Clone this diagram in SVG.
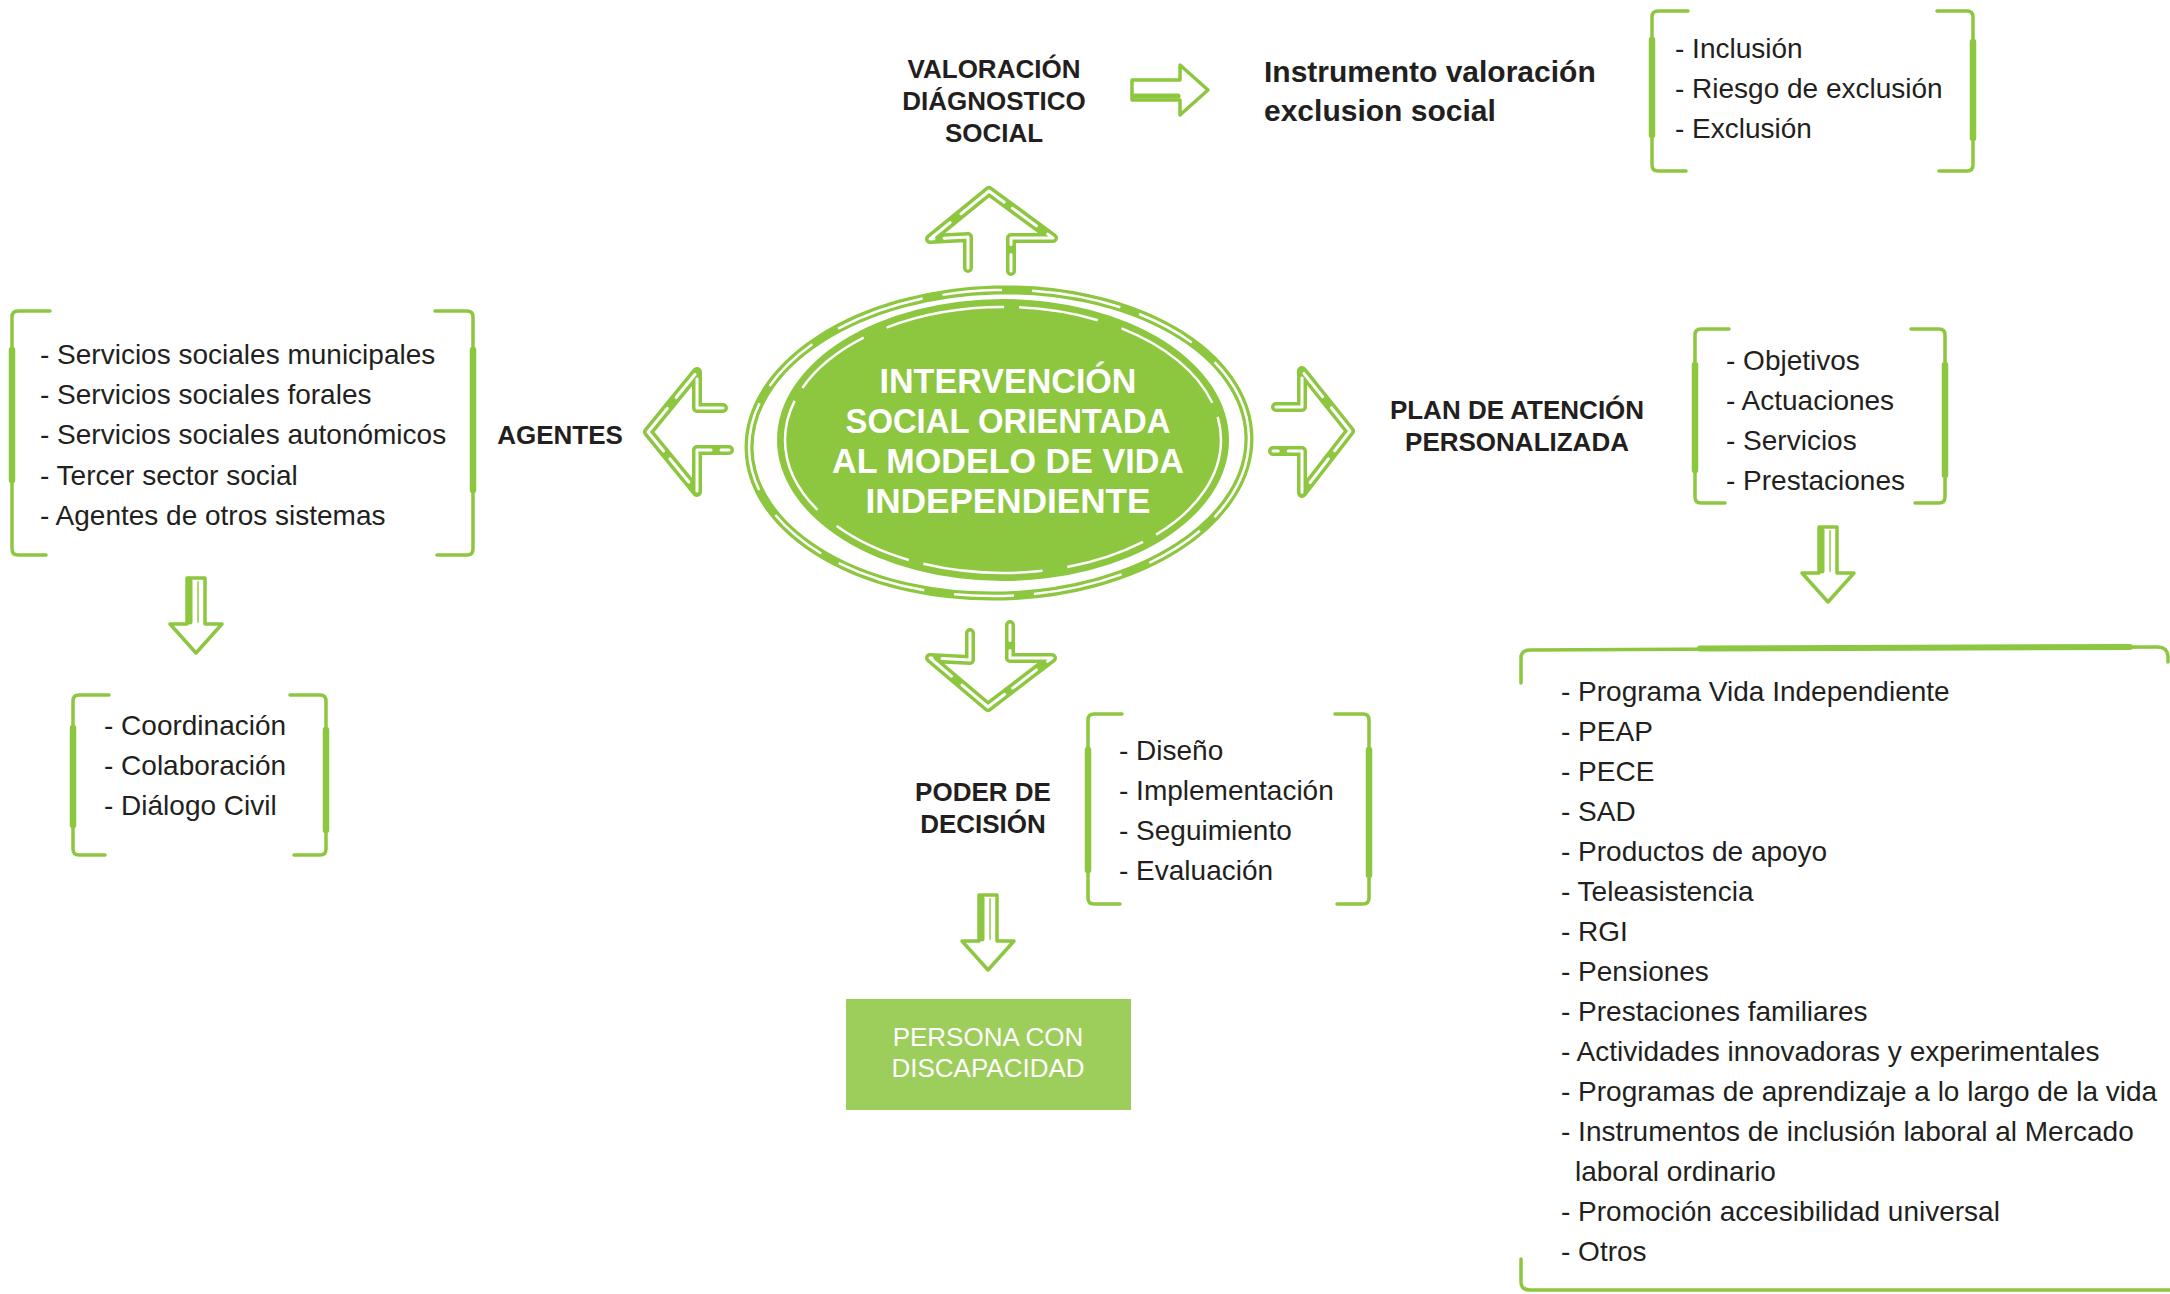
<svg xmlns="http://www.w3.org/2000/svg" xmlns:xlink="http://www.w3.org/1999/xlink" width="2170" height="1294" viewBox="0 0 2170 1294">
<style>
.txt{font-family:"Liberation Sans",Arial,sans-serif;font-size:28px;fill:#231f20}
.lbl{font-family:"Liberation Sans",Arial,sans-serif;font-size:26px;font-weight:bold;fill:#231f20;text-anchor:middle}
.ins{font-family:"Liberation Sans",Arial,sans-serif;font-size:30px;font-weight:bold;fill:#231f20}
.title{font-family:"Liberation Sans",Arial,sans-serif;font-size:35px;font-weight:bold;fill:#fff;text-anchor:middle}
.pers{font-family:"Liberation Sans",Arial,sans-serif;font-size:26px;fill:#fff;text-anchor:middle}
.br{fill:none;stroke:#8dc63f;stroke-width:3.5;stroke-linecap:round;stroke-linejoin:round}
.brt{fill:none;stroke:#8dc63f;stroke-width:6.5;stroke-linecap:round}
.ar{fill:none;stroke:#8dc63f;stroke-width:10;stroke-linejoin:round;stroke-linecap:round}
.arw{fill:none;stroke:#fff;stroke-width:3;stroke-linejoin:round;stroke-linecap:round;stroke-dasharray:55 10 30 14}
.sa{fill:none;stroke:#8dc63f;stroke-width:3.5;stroke-linejoin:round;stroke-linecap:round}
.sat{fill:none;stroke:#8dc63f;stroke-width:5;stroke-linecap:round}
</style>
<defs>
<g id="sdown">
<path class="sa" d="M-9,0 L-9,46 L-26,46 L0,75 L26,46 L9,46 L9,0 Z"/>
<path class="sat" d="M-6,3 L-6,44"/>
<path class="sa" style="stroke-width:2;opacity:.7" d="M2,4 L2,44"/>
</g>
</defs>
<rect width="2170" height="1294" fill="#fff"/>

<g id="connectors">
<path class="ar" d="M968,268 L968,237 L930,239 L989,191 L1053,238 L1011,238 L1011,271"/>
<path class="arw" d="M968,268 L968,237 L930,239 L989,191 L1053,238 L1011,238 L1011,271"/>
<path class="ar" d="M723,408 L697,408 L697,372 L648,432 L697,492 L697,450 L729,450"/>
<path class="arw" d="M723,408 L697,408 L697,372 L648,432 L697,492 L697,450 L729,450"/>
<path class="ar" d="M1276,407 L1302,407 L1302,371 L1350,431 L1302,493 L1302,451 L1273,451"/>
<path class="arw" d="M1276,407 L1302,407 L1302,371 L1350,431 L1302,493 L1302,451 L1273,451"/>
<path class="ar" d="M970,633 L970,660 L930,658 L988,707 L1052,658 L1010,658 L1010,625"/>
<path class="arw" d="M970,633 L970,660 L930,658 L988,707 L1052,658 L1010,658 L1010,625"/>
<path class="sa" d="M1132,80 L1180,80 L1180,65 L1208,90 L1180,115 L1180,100 L1132,100 Z"/>
<path class="sat" d="M1135,96 L1178,96"/>
<use xlink:href="#sdown" transform="translate(196,578)"/>
<use xlink:href="#sdown" transform="translate(1828,527)"/>
<use xlink:href="#sdown" transform="translate(988,895)"/>
</g>

<g id="n-center">
<ellipse cx="999" cy="443" rx="250" ry="153" fill="none" stroke="#8dc63f" stroke-width="9" transform="rotate(-1.5 999 443)"/>
<ellipse cx="999" cy="443" rx="250" ry="153" fill="none" stroke="#fff" stroke-width="2.5" stroke-dasharray="90 20 60 30" transform="rotate(-1.5 999 443)"/>
<ellipse cx="1003" cy="440" rx="226" ry="141" fill="#8dc63f"/>
<ellipse cx="1003" cy="440" rx="218" ry="133" fill="none" stroke="#fff" stroke-width="2.5" stroke-dasharray="120 15 80 25"/>
<text class="title" x="1008" y="393" textLength="257" lengthAdjust="spacingAndGlyphs">INTERVENCIÓN</text>
<text class="title" x="1008" y="433" textLength="325" lengthAdjust="spacingAndGlyphs">SOCIAL ORIENTADA</text>
<text class="title" x="1008" y="473" textLength="352" lengthAdjust="spacingAndGlyphs">AL MODELO DE VIDA</text>
<text class="title" x="1008" y="513" textLength="285" lengthAdjust="spacingAndGlyphs">INDEPENDIENTE</text>
</g>

<g id="n-valoracion">
<text class="lbl" x="994" y="78">VALORACIÓN</text>
<text class="lbl" x="994" y="110">DIÁGNOSTICO</text>
<text class="lbl" x="994" y="142">SOCIAL</text>
</g>

<g id="n-instrumento">
<text class="ins" x="1264" y="82">Instrumento valoración</text>
<text class="ins" x="1264" y="121">exclusion social</text>
</g>

<g id="n-inclusion">
<path class="br" d="M1688,11 L1658,11 Q1652,11 1652,17 L1652,165 Q1652,171 1658,171 L1686,171"/>
<path class="brt" d="M1652,40 L1652,135"/>
<path class="br" d="M1937,11 L1967,11 Q1973,11 1973,17 L1973,165 Q1973,171 1967,171 L1939,171"/>
<path class="brt" d="M1973,42 L1973,138"/>
<text class="txt" x="1675" y="58">- Inclusión</text>
<text class="txt" x="1675" y="98">- Riesgo de exclusión</text>
<text class="txt" x="1675" y="138">- Exclusión</text>
</g>

<g id="n-agentes-list">
<path class="br" d="M50,311 L18,311 Q12,311 12,317 L12,549 Q12,555 18,555 L46,555"/>
<path class="brt" d="M12,350 L12,480"/>
<path class="br" d="M435,311 L467,311 Q473,311 473,317 L473,549 Q473,555 467,555 L437,555"/>
<path class="brt" d="M473,350 L473,490"/>
<text class="txt" x="40" y="364">- Servicios sociales municipales</text>
<text class="txt" x="40" y="404">- Servicios sociales forales</text>
<text class="txt" x="40" y="444">- Servicios sociales autonómicos</text>
<text class="txt" x="40" y="485">- Tercer sector social</text>
<text class="txt" x="40" y="525">- Agentes de otros sistemas</text>
</g>

<g id="n-agentes">
<text class="lbl" x="560" y="444">AGENTES</text>
</g>

<g id="n-coordinacion">
<path class="br" d="M109,695 L79,695 Q73,695 73,701 L73,849 Q73,855 79,855 L105,855"/>
<path class="brt" d="M73,728 L73,825"/>
<path class="br" d="M290,695 L320,695 Q326,695 326,701 L326,849 Q326,855 320,855 L294,855"/>
<path class="brt" d="M326,730 L326,830"/>
<text class="txt" x="104" y="735">- Coordinación</text>
<text class="txt" x="104" y="775">- Colaboración</text>
<text class="txt" x="104" y="815">- Diálogo Civil</text>
</g>

<g id="n-plan">
<text class="lbl" x="1517" y="419">PLAN DE ATENCIÓN</text>
<text class="lbl" x="1517" y="451">PERSONALIZADA</text>
</g>

<g id="n-plan-list">
<path class="br" d="M1729,329 L1701,329 Q1695,329 1695,335 L1695,497 Q1695,503 1701,503 L1725,503"/>
<path class="brt" d="M1695,365 L1695,470"/>
<path class="br" d="M1911,329 L1939,329 Q1945,329 1945,335 L1945,497 Q1945,503 1939,503 L1915,503"/>
<path class="brt" d="M1945,365 L1945,475"/>
<text class="txt" x="1726" y="370">- Objetivos</text>
<text class="txt" x="1726" y="410">- Actuaciones</text>
<text class="txt" x="1726" y="450">- Servicios</text>
<text class="txt" x="1726" y="490">- Prestaciones</text>
</g>

<g id="n-poder">
<text class="lbl" x="983" y="801">PODER DE</text>
<text class="lbl" x="983" y="833">DECISIÓN</text>
</g>

<g id="n-poder-list">
<path class="br" d="M1122,714 L1094,714 Q1088,714 1088,720 L1088,898 Q1088,904 1094,904 L1120,904"/>
<path class="brt" d="M1088,750 L1088,870"/>
<path class="br" d="M1335,714 L1363,714 Q1369,714 1369,720 L1369,898 Q1369,904 1363,904 L1337,904"/>
<path class="brt" d="M1369,750 L1369,875"/>
<text class="txt" x="1119" y="760">- Diseño</text>
<text class="txt" x="1119" y="800">- Implementación</text>
<text class="txt" x="1119" y="840">- Seguimiento</text>
<text class="txt" x="1119" y="880">- Evaluación</text>
</g>

<g id="n-persona">
<rect x="846" y="999" width="285" height="111" fill="#9dcd5b"/>
<text class="pers" x="988" y="1046">PERSONA CON</text>
<text class="pers" x="988" y="1077">DISCAPACIDAD</text>
</g>

<g id="n-recursos">
<path class="br" d="M1521,683 L1521,658 Q1521,650 1530,650 L2158,647 Q2167,647 2168,656 L2168,662"/>
<path d="M1700,648.5 L2130,647" fill="none" stroke="#8dc63f" stroke-width="6" stroke-linecap="round"/>
<path class="br" d="M1521,1259 L1521,1282 Q1521,1290 1530,1290 L2170,1290"/>
<text class="txt" x="1561" y="701">- Programa Vida Independiente</text>
<text class="txt" x="1561" y="741">- PEAP</text>
<text class="txt" x="1561" y="781">- PECE</text>
<text class="txt" x="1561" y="821">- SAD</text>
<text class="txt" x="1561" y="861">- Productos de apoyo</text>
<text class="txt" x="1561" y="901">- Teleasistencia</text>
<text class="txt" x="1561" y="941">- RGI</text>
<text class="txt" x="1561" y="981">- Pensiones</text>
<text class="txt" x="1561" y="1021">- Prestaciones familiares</text>
<text class="txt" x="1561" y="1061">- Actividades innovadoras y experimentales</text>
<text class="txt" x="1561" y="1101">- Programas de aprendizaje a lo largo de la vida</text>
<text class="txt" x="1561" y="1141">- Instrumentos de inclusión laboral al Mercado</text>
<text class="txt" x="1575" y="1181">laboral ordinario</text>
<text class="txt" x="1561" y="1221">- Promoción accesibilidad universal</text>
<text class="txt" x="1561" y="1261">- Otros</text>
</g>
</svg>
